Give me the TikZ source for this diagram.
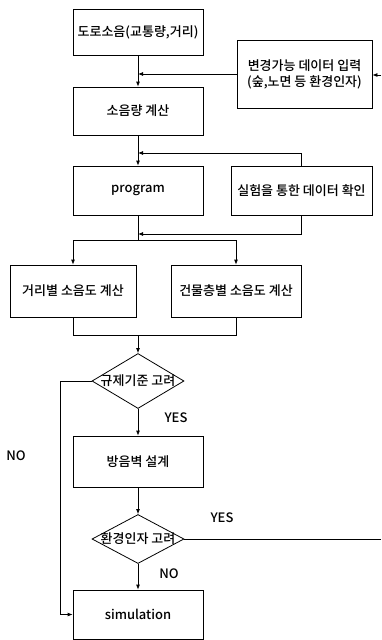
\documentclass[tikz,border=0pt]{standalone}
\usepackage{fontspec}
\setmainfont{Noto Sans CJK KR}[BoldFont={Noto Sans CJK KR Medium}]
\usetikzlibrary{arrows.meta,shapes.geometric}
\tikzset{
  stepbox/.style={draw,line width=.8pt,minimum width=#1,inner sep=0pt,align=center},
  decision/.style={draw,line width=.8pt,shape=diamond,minimum width=92pt,inner sep=0pt},
  flow/.style={line width=.8pt},
  arr/.style={flow,-{Latex[length=5pt,width=4pt]}}
}
\begin{document}
\begin{tikzpicture}[x=1pt,y=-1pt,font=\fontsize{13}{16}\selectfont\bfseries]
  \useasboundingbox (0,0) rectangle (381,640);
  \node[stepbox=130pt,minimum height=46pt] (road) at (138,32) {도로소음(교통량,거리)};
  \node[stepbox=135pt,minimum height=68pt] (input) at (304.5,74) {변경가능 데이터 입력\\(숲,노면 등 환경인자)};
  \node[stepbox=130pt,minimum height=48pt] (calc) at (138,111) {소음량 계산};
  \node[stepbox=130pt,minimum height=49pt] (prog) at (138,190.5) {program};
  \node[stepbox=141pt,minimum height=49pt] (exper) at (301.5,190.5) {실험을 통한 데이터 확인};
  \node[stepbox=126pt,minimum height=52pt] (dist) at (73,291) {거리별 소음도 계산};
  \node[stepbox=130pt,minimum height=52pt] (bldg) at (236,291) {건물층별 소음도 계산};
  \node[decision,minimum height=55pt] (reg) at (138,381) {}; \node (regtxt) at (reg.center) {규제기준 고려};
  \node[stepbox=130pt,minimum height=51pt] (wall) at (138,461.5) {방음벽 설계};
  \node[decision,minimum height=49pt] (env) at (138,539) {}; \node (envtxt) at (env.center) {환경인자 고려};
  \node[stepbox=130pt,minimum height=49pt] (sim) at (138,614.5) {simulation};
  \coordinate (inR) at (381,75); \coordinate (fb1) at (138,153); \coordinate (fb2) at (138,234);
  \coordinate (split) at (138,240); \coordinate (merge) at (138,335);
  \coordinate (noL) at (60,381); \coordinate (envR) at (381,539);
  \draw[arr] (road) -- (calc); \draw[arr] (input.west) -- (input.west -| road.south); \draw[arr] (inR) -- (inR -| input.east);
  \draw[arr] (calc) -- (prog); \draw[arr] (exper.north) |- (fb1);
  \draw[flow] (prog.south) -- (split); \draw[arr] (exper.south) |- (fb2);
  \draw[arr] (split) -| (dist.north); \draw[arr] (split) -| (bldg.north);
  \draw[flow] (dist.south) |- (merge); \draw[flow] (bldg.south) |- (merge); \draw[arr] (merge) -- (reg.north);
  \draw[arr] (reg.west) -- (noL) |- (sim.west); \draw[arr] (reg.south) -- (wall.north);
  \draw[arr] (wall.south) -- (env.north); \draw[arr] (env.south) -- (sim.north); \draw[flow] (env.east) -- (envR);
  \node (yes1) at (176,418) {YES}; \node (no1) at (16,456) {NO};
  \node (yes2) at (222,518) {YES}; \node (no2) at (169,574) {NO};
\end{tikzpicture}
\end{document}
